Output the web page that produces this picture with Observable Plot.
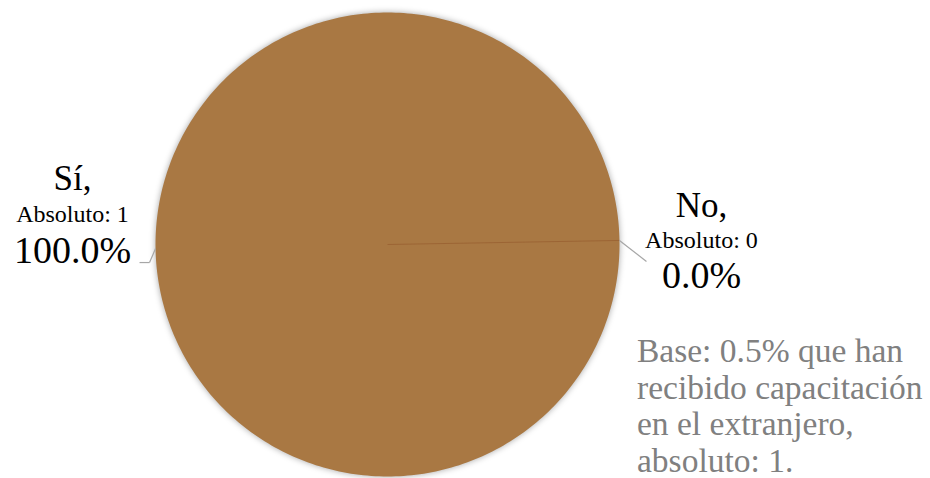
<!DOCTYPE html>
<html><head><meta charset="utf-8">
<script src="https://cdn.jsdelivr.net/npm/d3@7"></script>
<script src="https://cdn.jsdelivr.net/npm/@observablehq/plot@0.6"></script>
<style>
body{margin:0;background:#fff}
#wrap{position:relative;width:930px;height:478px;overflow:hidden;font-family:"Liberation Serif",serif}
#chart svg{overflow:visible}
#cap{position:absolute;left:637px;top:333px;font-size:33.5px;line-height:36.7px;color:#808080;white-space:nowrap;font-family:"Liberation Serif",serif}
g[aria-label="line"] path{filter:drop-shadow(0px 0px 3px rgba(0,0,0,0.35))}
</style></head><body>
<div id="wrap"><div id="chart"></div><div id="cap"></div></div>
<script>
const categories = ["Sí", "No"];
const absolutes = [1, 0];
const percents = [100.0, 0.0];
const captionLines = ["Base: 0.5% que han", "recibido capacitación", "en el extranjero,", "absoluto: 1."];
const sliceColors = ["#A97843", "#9C6535"];

// layout (pixels)
const R = 232, CX = 387, CY = 244;
const startDeg = 89;
const labelLayout = {
  "Sí": {leader: [[0,0],[-6,14],[-16,14]], dx: -83, base: [-59, -27, 14]},
  "No": {leader: [[0,0],[27,21]], dx: 82, base: [-23, 8, 48]}
};
const fsName = 35, fsAbs = 24, fsPct = 38;

const pie = d3.pie().sort(null)
  .startAngle(startDeg * Math.PI / 180)
  .endAngle(startDeg * Math.PI / 180 + 2 * Math.PI);
const arcs = pie(absolutes).map((a, i) => ({...a, name: categories[i], pct: percents[i], abs: absolutes[i]}));
const pt = (ang, r = 1) => ({x: r * Math.sin(ang), y: r * Math.cos(ang)});

const slicePts = arcs.filter(a => a.endAngle > a.startAngle).flatMap(a => {
  const n = Math.max(2, Math.ceil((a.endAngle - a.startAngle) * 180 / Math.PI));
  const pts = [{...pt(0, 0), name: a.name}];
  for (let k = 0; k <= n; k++) pts.push({...pt(a.startAngle + (a.endAngle - a.startAngle) * k / n), name: a.name});
  pts.push({...pt(0, 0), name: a.name});
  return pts;
});
const zeroSlices = arcs.filter(a => a.endAngle === a.startAngle).map(a => ({x1: 0, y1: 0, ...(() => { const p = pt(a.startAngle); return {x2: p.x, y2: p.y}; })()}));

const leaderSegs = [], nameRows = [], absRows = [], pctRows = [];
arcs.forEach(a => {
  const m = (a.startAngle + a.endAngle) / 2;
  const E = pt(m, 1);
  const L = labelLayout[a.name];
  for (let k = 0; k < L.leader.length - 1; k++) {
    const [p, q] = [L.leader[k], L.leader[k + 1]];
    leaderSegs.push({x1: E.x + p[0] / R, y1: E.y - p[1] / R, x2: E.x + q[0] / R, y2: E.y - q[1] / R});
  }
  const tx = E.x + L.dx / R;
  nameRows.push({x: tx, y: E.y - (L.base[0] - 0.32 * fsName) / R, text: a.name + ","});
  absRows.push({x: tx, y: E.y - (L.base[1] - 0.32 * fsAbs) / R, text: "Absoluto: " + a.abs});
  pctRows.push({x: tx, y: E.y - (L.base[2] - 0.32 * fsPct) / R, text: a.pct.toFixed(1) + "%"});
});

const chart = Plot.plot({
  width: 930, height: 478,
  margin: 0,
  x: {domain: [-1, 1], range: [CX - R, CX + R], axis: null},
  y: {domain: [-1, 1], range: [CY + R, CY - R], axis: null},
  style: {fontFamily: "'Liberation Serif', serif", background: "transparent"},
  marks: [
    Plot.line(slicePts, {x: "x", y: "y", z: "name", fill: sliceColors[0], stroke: "none", curve: "linear"}),
    Plot.link(zeroSlices, {x1: "x1", y1: "y1", x2: "x2", y2: "y2", stroke: sliceColors[1], strokeWidth: 1}),
    Plot.link(leaderSegs, {x1: "x1", y1: "y1", x2: "x2", y2: "y2", stroke: "#a6a6a6", strokeWidth: 1.2}),
    Plot.text(nameRows, {x: "x", y: "y", text: "text", fontSize: fsName, fill: "#000"}),
    Plot.text(absRows, {x: "x", y: "y", text: "text", fontSize: fsAbs, fill: "#000"}),
    Plot.text(pctRows, {x: "x", y: "y", text: "text", fontSize: fsPct, fill: "#000"})
  ]
});
document.getElementById("chart").appendChild(chart);
const cap = document.getElementById("cap");
captionLines.forEach(t => { const d = document.createElement("div"); d.textContent = t; cap.appendChild(d); });
</script>
</body></html>
